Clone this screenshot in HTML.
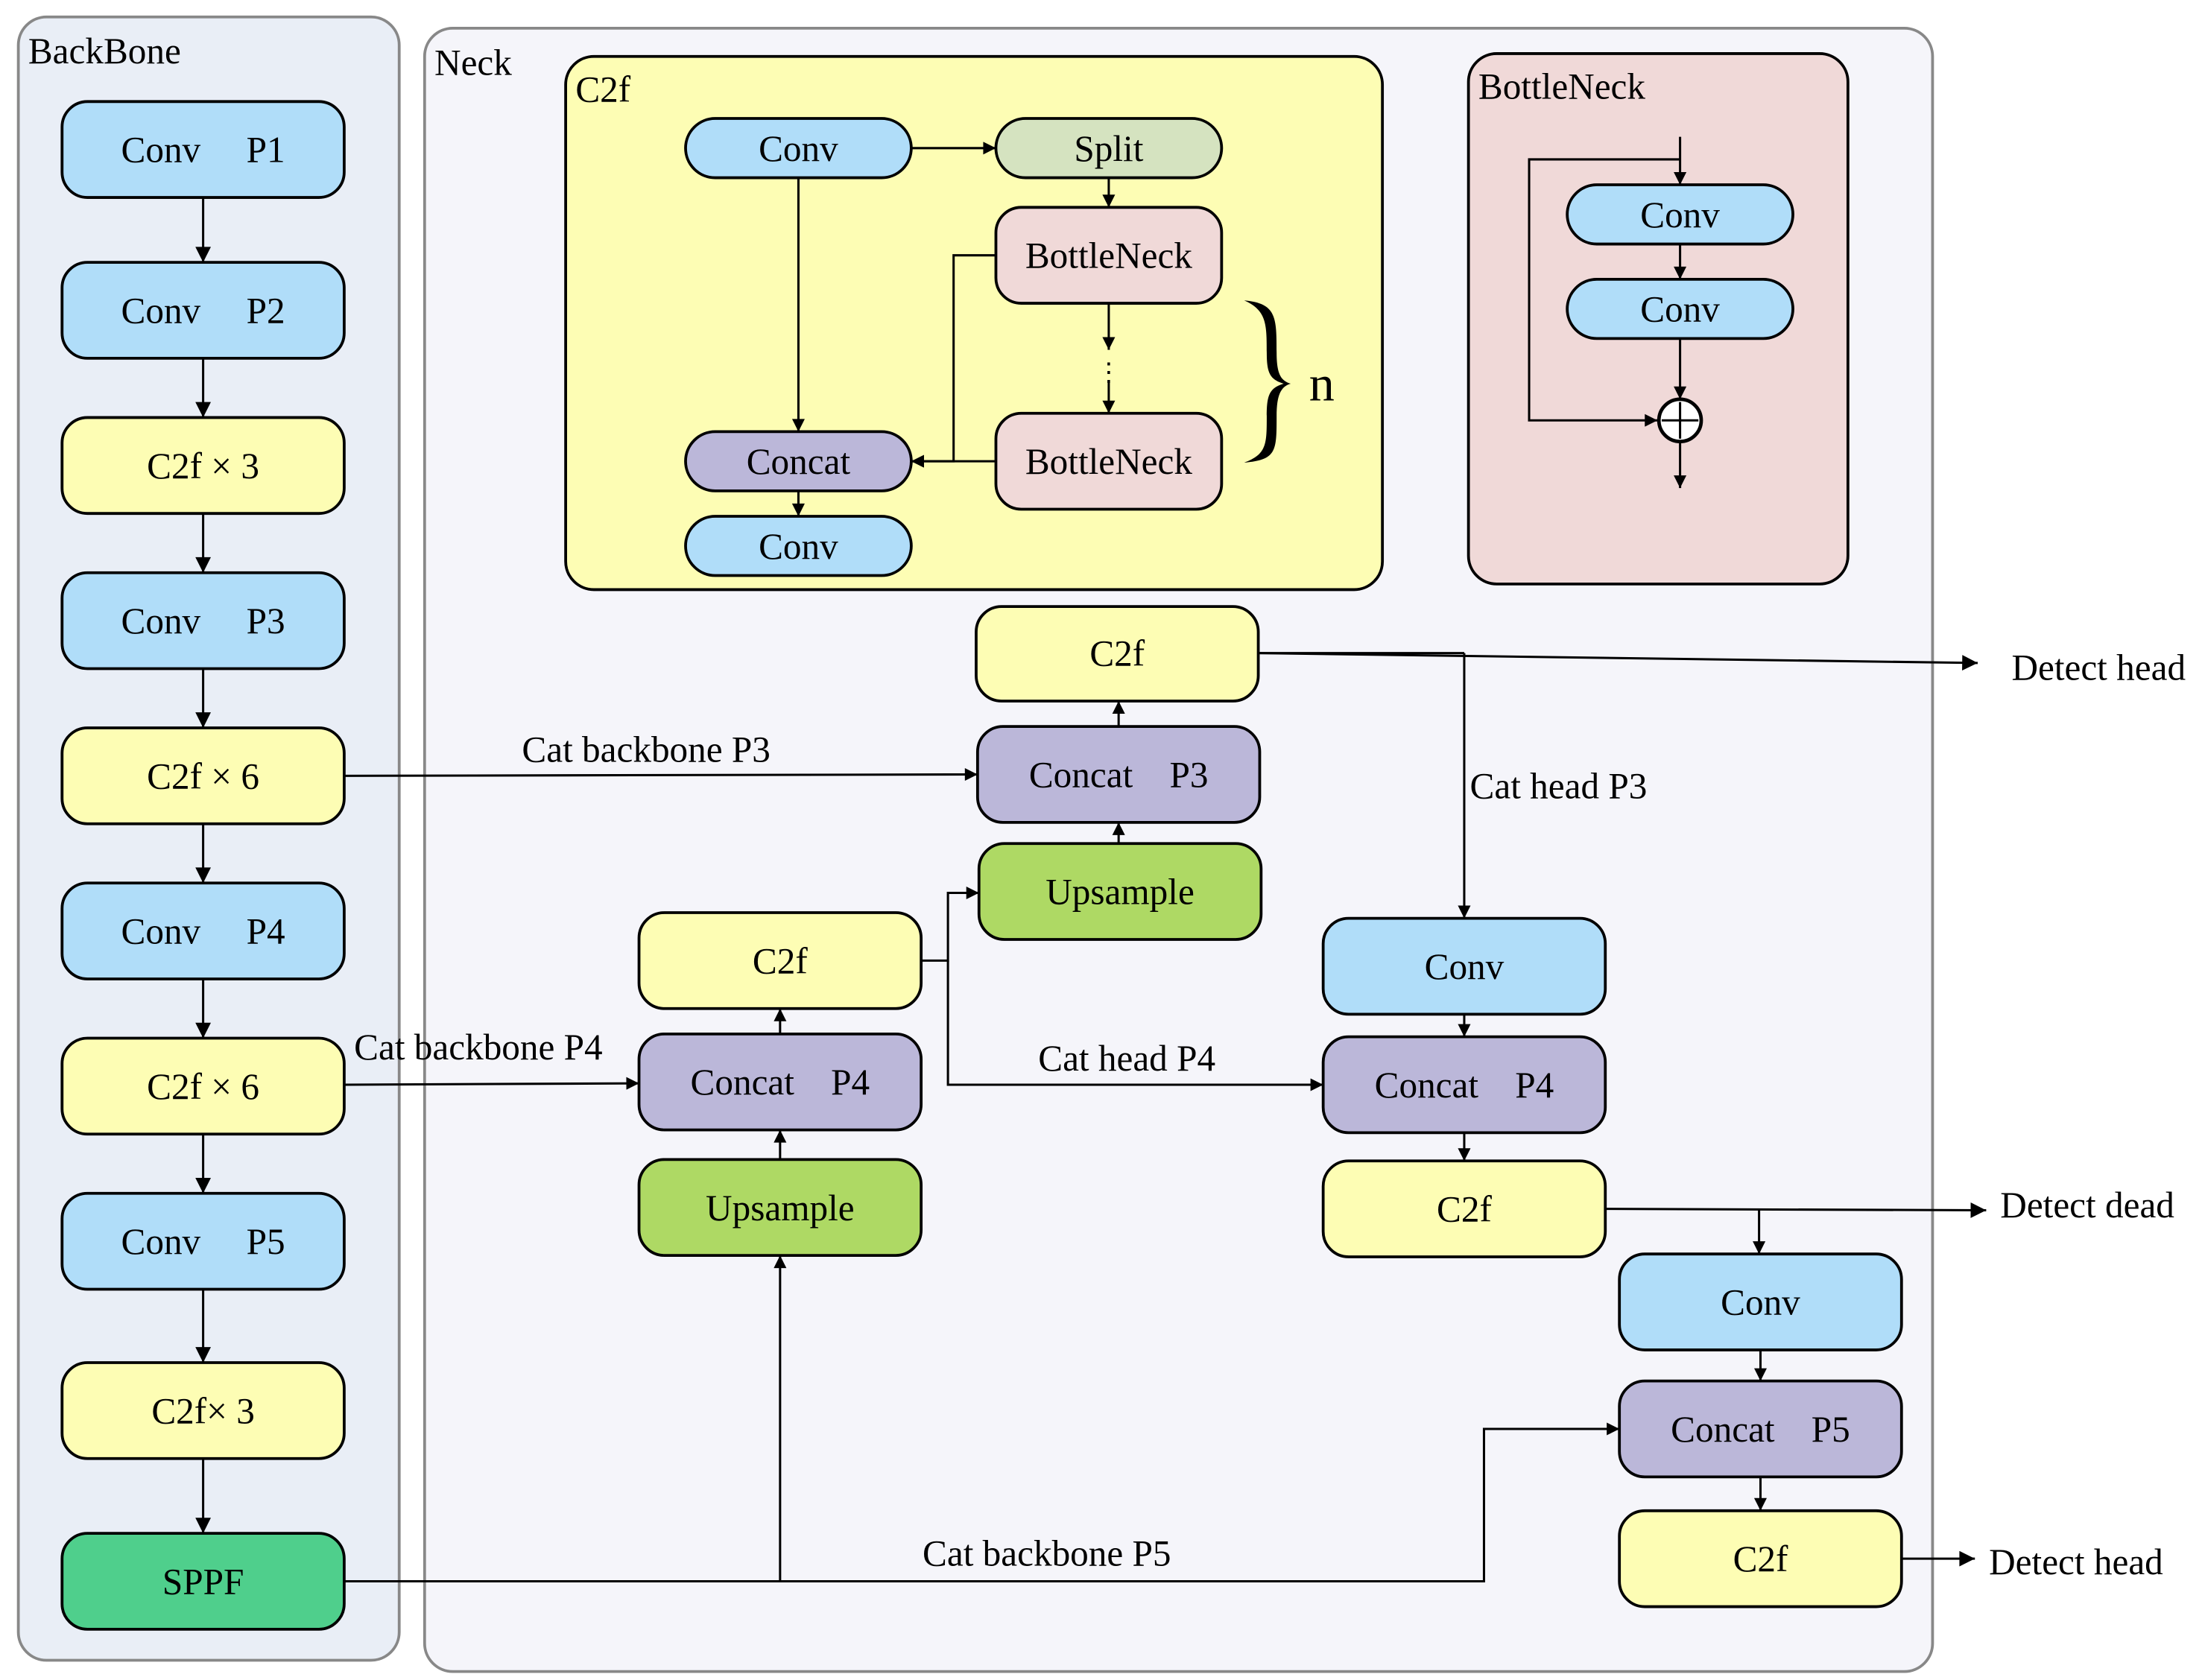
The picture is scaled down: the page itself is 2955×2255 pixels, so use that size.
<!DOCTYPE html>
<html><head><meta charset="utf-8"><style>
html,body{margin:0;padding:0;background:#fff}
svg{display:block}
text{font-family:"Liberation Serif",serif;fill:#000}
</style></head><body>
<svg xmlns="http://www.w3.org/2000/svg" width="2955" height="2255" viewBox="0 0 1561 1191" preserveAspectRatio="none">
<defs>
<marker id="a" viewBox="0 0 10 10" refX="10" refY="5" markerWidth="11" markerHeight="9" markerUnits="userSpaceOnUse" orient="auto"><path d="M0,0 L10,5 L0,10 Z" fill="#000"/></marker>
<marker id="b" viewBox="0 0 10 10" refX="10" refY="5" markerWidth="14" markerHeight="11" markerUnits="userSpaceOnUse" orient="auto"><path d="M0,0 L10,5 L0,10 Z" fill="#000"/></marker>
</defs>
<style>
.bx{stroke:#000;stroke-width:2}
.ln{stroke:#000;stroke-width:1.6;fill:none}
.t{font-size:26px;text-anchor:middle}
.l{font-size:26px}
</style>
<rect x="13" y="12" width="270" height="1165" rx="20" fill="#e9eef6" stroke="#888" stroke-width="2"/>
<rect x="301" y="20" width="1069" height="1165" rx="20" fill="#f5f5fa" stroke="#888" stroke-width="2"/>
<text class="l" x="20" y="45">BackBone</text>
<text class="l" x="308" y="53">Neck</text>

<g class="bx">
<rect x="44" y="72" width="200" height="68" rx="18" fill="#b0ddf9"/>
<rect x="44" y="186" width="200" height="68" rx="18" fill="#b0ddf9"/>
<rect x="44" y="296" width="200" height="68" rx="18" fill="#fdfdb4"/>
<rect x="44" y="406" width="200" height="68" rx="18" fill="#b0ddf9"/>
<rect x="44" y="516" width="200" height="68" rx="18" fill="#fdfdb4"/>
<rect x="44" y="626" width="200" height="68" rx="18" fill="#b0ddf9"/>
<rect x="44" y="736" width="200" height="68" rx="18" fill="#fdfdb4"/>
<rect x="44" y="846" width="200" height="68" rx="18" fill="#b0ddf9"/>
<rect x="44" y="966" width="200" height="68" rx="18" fill="#fdfdb4"/>
<rect x="44" y="1087" width="200" height="68" rx="18" fill="#4fcf8c"/>
</g>
<text class="t" x="144" y="115" xml:space="preserve">Conv     P1</text>
<text class="t" x="144" y="229" xml:space="preserve">Conv     P2</text>
<text class="t" x="144" y="339">C2f × 3</text>
<text class="t" x="144" y="449" xml:space="preserve">Conv     P3</text>
<text class="t" x="144" y="559">C2f × 6</text>
<text class="t" x="144" y="669" xml:space="preserve">Conv     P4</text>
<text class="t" x="144" y="779">C2f × 6</text>
<text class="t" x="144" y="889" xml:space="preserve">Conv     P5</text>
<text class="t" x="144" y="1009">C2f× 3</text>
<text class="t" x="144" y="1130">SPPF</text>
<g class="ln" marker-end="url(#b)">
<line x1="144" y1="140" x2="144" y2="186"/>
<line x1="144" y1="254" x2="144" y2="296"/>
<line x1="144" y1="364" x2="144" y2="406"/>
<line x1="144" y1="474" x2="144" y2="516"/>
<line x1="144" y1="584" x2="144" y2="626"/>
<line x1="144" y1="694" x2="144" y2="736"/>
<line x1="144" y1="804" x2="144" y2="846"/>
<line x1="144" y1="914" x2="144" y2="966"/>
<line x1="144" y1="1034" x2="144" y2="1087"/>
</g>

<rect x="401" y="40" width="579" height="378" rx="20" fill="#fdfdb4" class="bx"/>
<text class="l" x="408" y="72">C2f</text>
<g class="bx">
<rect x="486" y="84" width="160" height="42" rx="21" fill="#b0ddf9"/>
<rect x="706" y="84" width="160" height="42" rx="21" fill="#d5e3c0"/>
<rect x="706" y="147" width="160" height="68" rx="18" fill="#f0d9d8"/>
<rect x="706" y="293" width="160" height="68" rx="18" fill="#f0d9d8"/>
<rect x="486" y="306" width="160" height="42" rx="21" fill="#bbb7d9"/>
<rect x="486" y="366" width="160" height="42" rx="21" fill="#b0ddf9"/>
</g>
<text class="t" x="566" y="114">Conv</text>
<text class="t" x="786" y="114">Split</text>
<text class="t" x="786" y="190">BottleNeck</text>
<text class="t" x="786" y="336">BottleNeck</text>
<text class="t" x="566" y="336">Concat</text>
<text class="t" x="566" y="396">Conv</text>
<g class="ln" marker-end="url(#a)">
<line x1="646" y1="105" x2="706" y2="105"/>
<line x1="786" y1="126" x2="786" y2="147"/>
<line x1="566" y1="126" x2="566" y2="306"/>
<polyline points="706,181 676,181 676,327 646,327"/>
<line x1="706" y1="327" x2="646" y2="327"/>
<line x1="786" y1="215" x2="786" y2="248"/>
<line x1="786" y1="270" x2="786" y2="293"/>
<line x1="566" y1="348" x2="566" y2="366"/>
</g>
<text class="t" x="786" y="270" style="font-size:18px">⋮</text>
<path d="M882,213 C905,215 905,225 905,250 C905,265 908,270 915,272 C908,274 905,280 905,295 C905,320 905,326 882,328 C898,322 898,315 898,295 C898,280 900,275 910,272 C900,269 898,264 898,250 C898,230 898,220 882,213 Z" fill="#000"/>
<text class="l" x="928" y="284" style="font-size:36px">n</text>

<rect x="1041" y="38" width="269" height="376" rx="20" fill="#f0d9d8" class="bx"/>
<text class="l" x="1048" y="70">BottleNeck</text>
<g class="bx">
<rect x="1111" y="131" width="160" height="42" rx="21" fill="#b0ddf9"/>
<rect x="1111" y="198" width="160" height="42" rx="21" fill="#b0ddf9"/>
</g>
<text class="t" x="1191" y="161">Conv</text>
<text class="t" x="1191" y="228">Conv</text>
<circle cx="1191" cy="298" r="15" fill="#fff" stroke="#000" stroke-width="2.5"/>
<line x1="1178" y1="298" x2="1204" y2="298" class="ln"/>
<line x1="1191" y1="285" x2="1191" y2="311" class="ln"/>
<g class="ln" marker-end="url(#a)">
<line x1="1191" y1="97" x2="1191" y2="131"/>
<polyline points="1191,113 1084,113 1084,298 1175,298"/>
<line x1="1191" y1="173" x2="1191" y2="198"/>
<line x1="1191" y1="240" x2="1191" y2="283"/>
<line x1="1191" y1="313" x2="1191" y2="346"/>
</g>

<g class="bx">
<rect x="692" y="430" width="200" height="67" rx="18" fill="#fdfdb4"/>
<rect x="693" y="515" width="200" height="68" rx="18" fill="#bbb7d9"/>
<rect x="694" y="598" width="200" height="68" rx="18" fill="#aed964"/>
<rect x="453" y="647" width="200" height="68" rx="18" fill="#fdfdb4"/>
<rect x="453" y="733" width="200" height="68" rx="18" fill="#bbb7d9"/>
<rect x="453" y="822" width="200" height="68" rx="18" fill="#aed964"/>
<rect x="938" y="651" width="200" height="68" rx="18" fill="#b0ddf9"/>
<rect x="938" y="735" width="200" height="68" rx="18" fill="#bbb7d9"/>
<rect x="938" y="823" width="200" height="68" rx="18" fill="#fdfdb4"/>
<rect x="1148" y="889" width="200" height="68" rx="18" fill="#b0ddf9"/>
<rect x="1148" y="979" width="200" height="68" rx="18" fill="#bbb7d9"/>
<rect x="1148" y="1071" width="200" height="68" rx="18" fill="#fdfdb4"/>
</g>
<text class="t" x="792" y="472">C2f</text>
<text class="t" x="793" y="558" xml:space="preserve">Concat    P3</text>
<text class="t" x="794" y="641">Upsample</text>
<text class="t" x="553" y="690">C2f</text>
<text class="t" x="553" y="776" xml:space="preserve">Concat    P4</text>
<text class="t" x="553" y="865">Upsample</text>
<text class="t" x="1038" y="694">Conv</text>
<text class="t" x="1038" y="778" xml:space="preserve">Concat    P4</text>
<text class="t" x="1038" y="866">C2f</text>
<text class="t" x="1248" y="932">Conv</text>
<text class="t" x="1248" y="1022" xml:space="preserve">Concat    P5</text>
<text class="t" x="1248" y="1114">C2f</text>

<g class="ln" marker-end="url(#a)">
<line x1="793" y1="598" x2="793" y2="583"/>
<line x1="793" y1="515" x2="793" y2="497"/>
<line x1="553" y1="822" x2="553" y2="801"/>
<line x1="553" y1="733" x2="553" y2="715"/>
<line x1="1038" y1="719" x2="1038" y2="735"/>
<line x1="1038" y1="803" x2="1038" y2="823"/>
<line x1="1248" y1="957" x2="1248" y2="979"/>
<line x1="1248" y1="1047" x2="1248" y2="1071"/>
<line x1="244" y1="550" x2="693" y2="549"/>
<line x1="244" y1="769" x2="453" y2="768"/>
<polyline points="653,681 672,681 672,633 694,633"/>
<polyline points="672,681 672,769 938,769"/>
<polyline points="244,1121 1052,1121 1052,1013 1148,1013"/>
<line x1="553" y1="1121" x2="553" y2="890"/>
<polyline points="1038,463 1038,651"/>
<polyline points="1247,857 1247,889"/>
</g>
<g class="ln" marker-end="url(#b)">
<line x1="892" y1="463" x2="1402" y2="470"/>
<line x1="1138" y1="857" x2="1408" y2="858"/>
<line x1="1348" y1="1105" x2="1400" y2="1105"/>
</g>
<line x1="892" y1="463" x2="1038" y2="463" class="ln"/>
<text class="l" x="370" y="540">Cat  backbone P3</text>
<text class="l" x="251" y="751">Cat backbone P4</text>
<text class="l" x="736" y="759">Cat head P4</text>
<text class="l" x="1042" y="566">Cat head P3</text>
<text class="l" x="654" y="1110">Cat backbone P5</text>
<text class="l" x="1426" y="482">Detect head</text>
<text class="l" x="1418" y="863">Detect dead</text>
<text class="l" x="1410" y="1116">Detect head</text>
</svg>
</body></html>
